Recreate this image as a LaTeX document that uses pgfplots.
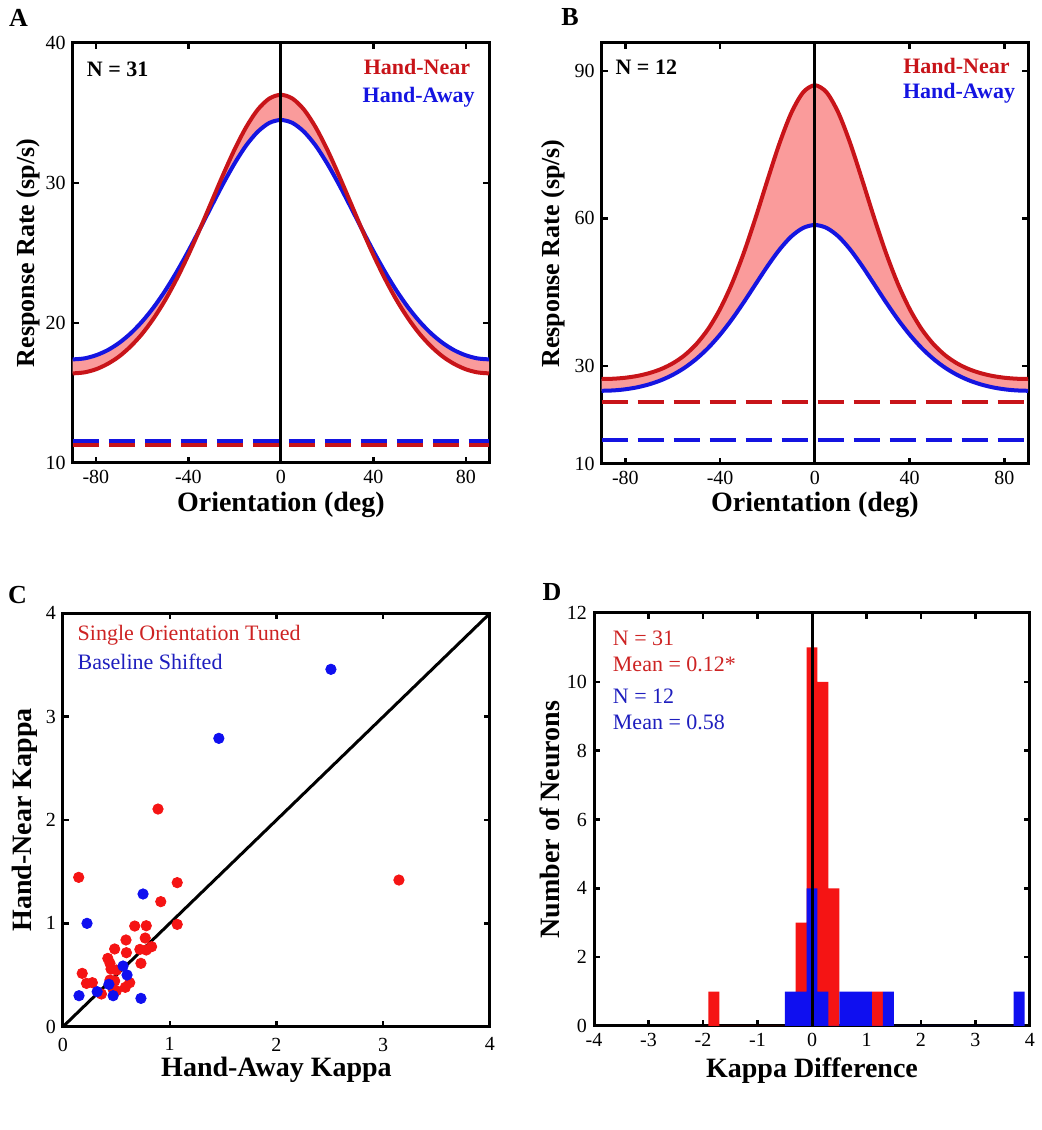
\documentclass[border=0pt]{standalone}
\usepackage{fontspec}
\setmainfont{Liberation Serif}
\usepackage{pgfplots}
\usepackage{pgfplotstable}
\pgfplotsset{compat=1.18}
\usepgfplotslibrary{fillbetween}

\definecolor{cRed}{RGB}{200,20,25}
\definecolor{cBlue}{RGB}{20,20,225}
\definecolor{cFill}{RGB}{250,155,155}
\definecolor{sRed}{RGB}{245,20,20}
\definecolor{sBlue}{RGB}{15,15,240}
\definecolor{tRed}{RGB}{205,35,35}
\definecolor{tBlue}{RGB}{30,30,190}

\pgfplotstableread{
t nA aA nB aB
-90 16.40 17.40 27.30 24.90
-85 16.47 17.47 27.36 24.98
-80 16.69 17.69 27.56 25.21
-75 17.07 18.05 27.92 25.61
-70 17.60 18.57 28.49 26.21
-65 18.32 19.25 29.31 27.04
-60 19.22 20.10 30.49 28.15
-55 20.33 21.12 32.14 29.59
-50 21.64 22.31 34.43 31.41
-45 23.16 23.66 37.51 33.65
-40 24.86 25.14 41.57 36.34
-35 26.71 26.72 46.73 39.46
-30 28.65 28.34 52.99 42.94
-25 30.58 29.93 60.16 46.62
-20 32.40 31.40 67.80 50.27
-15 33.99 32.68 75.18 53.60
-10 35.24 33.66 81.42 56.29
-5 36.03 34.29 85.62 58.04
0 36.30 34.50 87.10 58.65
5 36.03 34.29 85.62 58.04
10 35.24 33.66 81.42 56.29
15 33.99 32.68 75.18 53.60
20 32.40 31.40 67.80 50.27
25 30.58 29.93 60.16 46.62
30 28.65 28.34 52.99 42.94
35 26.71 26.72 46.73 39.46
40 24.86 25.14 41.57 36.34
45 23.16 23.66 37.51 33.65
50 21.64 22.31 34.43 31.41
55 20.33 21.12 32.14 29.59
60 19.22 20.10 30.49 28.15
65 18.32 19.25 29.31 27.04
70 17.60 18.57 28.49 26.21
75 17.07 18.05 27.92 25.61
80 16.69 17.69 27.56 25.21
85 16.47 17.47 27.36 24.98
90 16.40 17.40 27.30 24.90
}\tuning

\pgfplotsset{
  panel/.style={
    scale only axis,
    axis line style={line width=1.5pt},
    every tick/.style={line width=1.2pt, black},
    major tick length=3pt,
    tick align=inside,
    tick label style={font=\fontsize{10}{12}\selectfont},
    label style={font=\bfseries\fontsize{14}{16}\selectfont},
    xlabel style={anchor=center},
    ylabel style={anchor=center},
  },
}

\begin{document}
\begin{tikzpicture}

% ---------- Panel A ----------
\begin{axis}[panel,
  at={(36.35pt,333.5pt)}, anchor=south west,
  width=208.15pt, height=210pt,
  xmin=-90, xmax=90, ymin=10, ymax=40,
  xtick={-80,-40,0,40,80}, xticklabels={-80,-40,0,40,80},
  ytick={10,20,30,40}, yticklabels={10,20,30,40},
  xlabel={Orientation (deg)}, ylabel={Response Rate (sp/s)},
  xlabel style={at={(axis description cs:0.5,-0.1)}},
  ylabel style={at={(axis description cs:-0.106,0.5)}, font=\bfseries\fontsize{13}{15}\selectfont},
]
\addplot[name path=nA, draw=none, forget plot] table[x=t,y=nA]{\tuning};
\addplot[name path=aA, draw=none, forget plot] table[x=t,y=aA]{\tuning};
\addplot[cFill, draw=none] fill between[of=nA and aA];
\addplot[cRed, line width=2pt, dash pattern=on 13pt off 5pt] coordinates {(-90,11.25) (90,11.25)};
\addplot[cBlue, line width=2pt, dash pattern=on 13pt off 5pt] coordinates {(-90,11.55) (90,11.55)};
\addplot[cBlue, line width=2pt, smooth] table[x=t,y=aA]{\tuning};
\addplot[cRed, line width=2pt, smooth] table[x=t,y=nA]{\tuning};
\addplot[black, line width=1.5pt] coordinates {(0,10) (0,40)};
\node[anchor=west, inner sep=0, font=\bfseries\fontsize{11}{13}\selectfont] at (axis cs:-84,38.1) {N = 31};
\node[anchor=east, inner sep=0, text=cRed, font=\bfseries\fontsize{11}{13}\selectfont] at (axis cs:82,38.3) {Hand-Near};
\node[anchor=east, inner sep=0, text=cBlue, font=\bfseries\fontsize{11}{13}\selectfont] at (axis cs:84,36.1) {Hand-Away};
\end{axis}

% ---------- Panel B ----------
\begin{axis}[panel,
  at={(300.85pt,333pt)}, anchor=south west,
  width=213.15pt, height=210.5pt,
  xmin=-90, xmax=90, ymin=10, ymax=95.7,
  xtick={-80,-40,0,40,80}, xticklabels={-80,-40,0,40,80},
  ytick={10,30,60,90}, yticklabels={10,30,60,90},
  xlabel={Orientation (deg)}, ylabel={Response Rate (sp/s)},
  xlabel style={at={(axis description cs:0.5,-0.097)}},
  ylabel style={at={(axis description cs:-0.114,0.5)}, font=\bfseries\fontsize{13}{15}\selectfont},
]
\addplot[name path=nB, draw=none, forget plot] table[x=t,y=nB]{\tuning};
\addplot[name path=aB, draw=none, forget plot] table[x=t,y=aB]{\tuning};
\addplot[cFill, draw=none] fill between[of=nB and aB];
\addplot[cRed, line width=2pt, dash pattern=on 13pt off 5pt] coordinates {(-90,22.7) (90,22.7)};
\addplot[cBlue, line width=2pt, dash pattern=on 13pt off 5pt] coordinates {(-90,14.8) (90,14.8)};
\addplot[cBlue, line width=2pt, smooth] table[x=t,y=aB]{\tuning};
\addplot[cRed, line width=2pt, smooth] table[x=t,y=nB]{\tuning};
\addplot[black, line width=1.5pt] coordinates {(0,10) (0,95.7)};
\node[anchor=west, inner sep=0, font=\bfseries\fontsize{11}{13}\selectfont] at (axis cs:-84.3,90.7) {N = 12};
\node[anchor=east, inner sep=0, text=cRed, font=\bfseries\fontsize{11}{13}\selectfont] at (axis cs:82.4,91.1) {Hand-Near};
\node[anchor=east, inner sep=0, text=cBlue, font=\bfseries\fontsize{11}{13}\selectfont] at (axis cs:84.7,85.4) {Hand-Away};
\end{axis}

% ---------- Panel C ----------
\begin{axis}[panel,
  at={(31.5pt,51.65pt)}, anchor=south west,
  width=213.5pt, height=206.7pt,
  xmin=0, xmax=4, ymin=0, ymax=4,
  xtick={0,1,2,3,4}, xticklabels={0,1,2,3,4},
  ytick={0,1,2,3,4}, yticklabels={0,1,2,3,4},
  xticklabel style={yshift=-2pt},
  xlabel={Hand-Away Kappa}, ylabel={Hand-Near Kappa},
  xlabel style={at={(axis description cs:0.5,-0.104)}},
  ylabel style={at={(axis description cs:-0.089,0.5)}},
]
\addplot[only marks, mark=*, mark size=2.6pt, sRed, mark options={draw=none, fill=sRed}] coordinates {
(0.147,1.445) (0.89,2.106) (3.147,1.419) (1.07,1.394) (0.916,1.21)
(1.07,0.99) (0.672,0.974) (0.78,0.977) (0.59,0.839) (0.77,0.858)
(0.484,0.752) (0.594,0.716) (0.72,0.748) (0.83,0.774) (0.78,0.742)
(0.42,0.661) (0.44,0.613) (0.73,0.613) (0.45,0.558) (0.50,0.548)
(0.18,0.516) (0.22,0.419) (0.275,0.426) (0.44,0.452) (0.484,0.442)
(0.625,0.426) (0.584,0.381) (0.50,0.348) (0.36,0.316) (0.47,0.36)
};
\addplot[only marks, mark=*, mark size=2.6pt, sBlue, mark options={draw=none, fill=sBlue}] coordinates {
(2.51,3.458) (1.46,2.79) (0.75,1.284) (0.225,1.0) (0.5625,0.587)
(0.60,0.50) (0.43,0.41) (0.32,0.339) (0.15,0.30) (0.47,0.30) (0.73,0.274)
};
\addplot[black, line width=1.5pt] coordinates {(0,0) (4,4)};
\node[anchor=west, inner sep=0, text=tRed, font=\fontsize{11}{13}\selectfont] at (axis cs:0.134,3.79) {Single Orientation Tuned};
\node[anchor=west, inner sep=0, text=tBlue, font=\fontsize{11}{13}\selectfont] at (axis cs:0.134,3.53) {Baseline Shifted};
\end{axis}

% ---------- Panel D ----------
\begin{axis}[panel,
  at={(297pt,52pt)}, anchor=south west,
  width=218pt, height=206.5pt,
  xmin=-4, xmax=4, ymin=0, ymax=12,
  xtick={-4,-3,-2,-1,0,1,2,3,4}, xticklabels={-4,-3,-2,-1,0,1,2,3,4},
  ytick={0,2,4,6,8,10,12}, yticklabels={0,2,4,6,8,10,12},
  xlabel={Kappa Difference}, ylabel={Number of Neurons},
  xlabel style={at={(axis description cs:0.5,-0.107)}},
  ylabel style={at={(axis description cs:-0.101,0.5)}},
]
\addplot[fill=sRed, draw=none] coordinates {
(-1.9,0) (-1.9,1) (-1.7,1) (-1.7,0)
(-0.3,0) (-0.3,3) (-0.1,3) (-0.1,11) (0.1,11) (0.1,10) (0.3,10) (0.3,4) (0.5,4) (0.5,0)
(1.1,0) (1.1,1) (1.3,1) (1.3,0)
};
\addplot[fill=sBlue, draw=none] coordinates {
(-0.5,0) (-0.5,1) (-0.1,1) (-0.1,4) (0.1,4) (0.1,1) (0.3,1) (0.3,0)
(0.5,0) (0.5,1) (1.1,1) (1.1,0)
(1.3,0) (1.3,1) (1.5,1) (1.5,0)
(3.7,0) (3.7,1) (3.9,1) (3.9,0)
};
\addplot[black, line width=1.5pt] coordinates {(0,0) (0,12)};
\node[anchor=west, inner sep=0, text=tRed, font=\fontsize{11}{13}\selectfont] at (axis cs:-3.66,11.27) {N = 31};
\node[anchor=west, inner sep=0, text=tRed, font=\fontsize{11}{13}\selectfont] at (axis cs:-3.66,10.51) {Mean = 0.12*};
\node[anchor=west, inner sep=0, text=tBlue, font=\fontsize{11}{13}\selectfont] at (axis cs:-3.66,9.59) {N = 12};
\node[anchor=west, inner sep=0, text=tBlue, font=\fontsize{11}{13}\selectfont] at (axis cs:-3.66,8.82) {Mean = 0.58};
\end{axis}

% panel letters
\node[font=\bfseries\fontsize{13}{15}\selectfont] at (9.2pt,556pt) {A};
\node[font=\bfseries\fontsize{13}{15}\selectfont] at (285pt,556.5pt) {B};
\node[font=\bfseries\fontsize{13}{15}\selectfont] at (8.7pt,267.5pt) {C};
\node[font=\bfseries\fontsize{13}{15}\selectfont] at (276pt,269pt) {D};
\path (0,0) rectangle (518.5pt,565pt);
\end{tikzpicture}
\end{document}
